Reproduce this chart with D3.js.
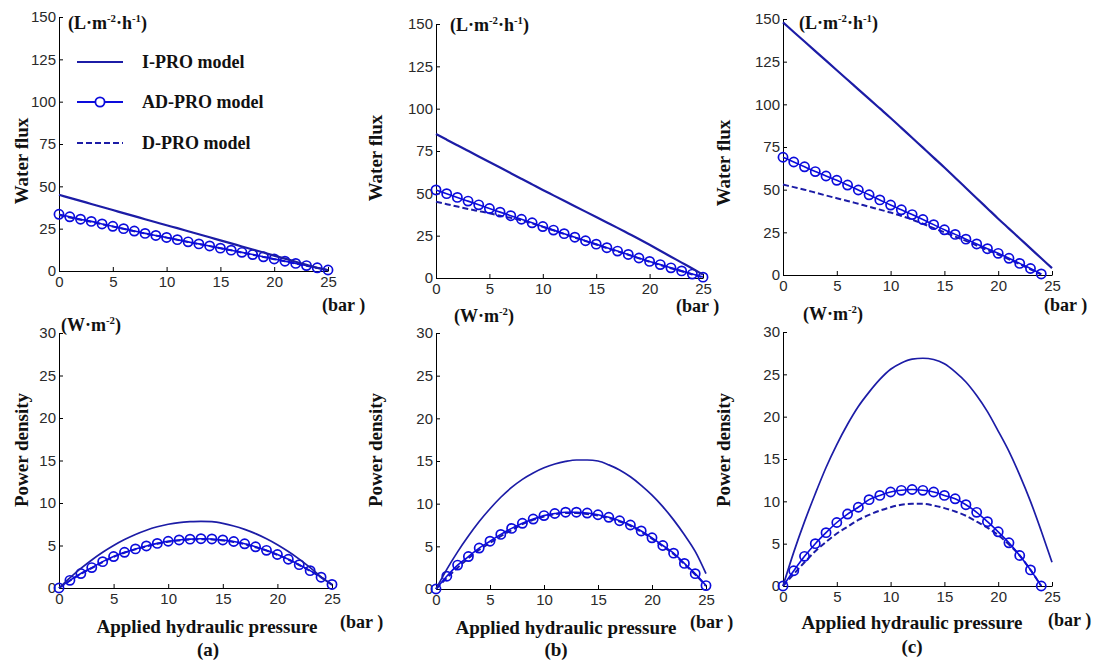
<!DOCTYPE html>
<html>
<head>
<meta charset="utf-8">
<script src="https://cdnjs.cloudflare.com/ajax/libs/d3/7.8.5/d3.min.js"></script>
<style>
body{margin:0;background:#fff;}
svg{display:block;}
.tick text{font-family:"Liberation Sans",Arial,sans-serif;font-size:15px;fill:#2a2a2a;}
.domain,.tick line{stroke:#000;}
.lbl{font-family:"Liberation Serif","Times New Roman",serif;font-weight:bold;fill:#111;}
</style>
</head>
<body>
<svg width="1099" height="663"></svg>
<script>
// applied hydraulic pressure (bar)
const pressure = [0,1,2,3,4,5,6,7,8,9,10,11,12,13,14,15,16,17,18,19,20,21,22,23,24,25];
const fluxTicks = [0,25,50,75,100,125,150];
const powerTicks = [0,5,10,15,20,25,30];
const pressureTicks = [0,5,10,15,20,25];
const models = ['I-PRO model','AD-PRO model','D-PRO model'];

// (a) water flux
const fluxA_I  = [45,43.2,41.4,39.6,37.8,36.0,34.2,32.4,30.6,28.8,27.0,25.3,23.5,21.7,19.9,18.1,16.3,14.5,12.7,10.9,9.1,7.3,5.5,3.7,1.9,0.5];
const fluxA_AD = [33.5,32.0,30.6,29.3,27.8,26.4,25.0,23.6,22.2,21.0,19.8,18.5,17.2,16.0,14.8,13.5,12.3,11.0,9.7,8.4,7.1,5.8,4.5,3.2,1.9,0.6];
const fluxA_D  = [33.0,31.6,30.3,29.0,27.6,26.2,24.9,23.5,22.1,20.9,19.7,18.4,17.1,15.9,14.7,13.4,12.2,10.9,9.6,8.3,7.0,5.7,4.4,3.1,1.8,0.5];
// (a) power density
const powerA_I  = [0,1.2,2.3,3.3,4.2,5.0,5.7,6.3,6.8,7.2,7.5,7.7,7.8,7.85,7.8,7.6,7.3,6.9,6.4,5.8,5.1,4.3,3.4,2.4,1.3,0.35];
const powerA_AD = [0,0.9,1.7,2.4,3.1,3.7,4.2,4.6,4.95,5.25,5.5,5.65,5.75,5.8,5.77,5.65,5.47,5.2,4.85,4.43,3.94,3.38,2.75,2.04,1.27,0.42];
const powerA_D  = [0,0.85,1.65,2.35,3.05,3.65,4.15,4.55,4.9,5.2,5.45,5.6,5.7,5.75,5.72,5.6,5.42,5.15,4.8,4.4,3.9,3.35,2.7,2.0,1.25,0.4];

// (b) water flux
const fluxB_I  = [85,81.7,78.4,75.1,71.8,68.5,65.2,61.9,58.6,55.3,52.0,48.8,45.6,42.4,39.2,36.0,32.8,29.6,26.3,23.0,19.6,16.1,12.6,9.1,5.6,2.0];
const fluxB_AD = [52,49.8,47.6,45.4,43.2,41.0,38.9,36.8,34.7,32.6,30.4,28.3,26.2,24.1,22.0,20.0,17.9,15.9,13.9,11.8,9.8,7.9,6.0,4.2,2.3,0.5];
const fluxB_D  = [45,43.6,42.2,40.8,39.5,38.2,36.8,35.5,34.0,32.2,30.2,28.1,26.0,23.9,21.8,19.8,17.7,15.7,13.7,11.6,9.6,7.7,5.8,4.0,2.1,0.4];
// (b) power density
const powerB_I  = [0,2.3,4.35,6.2,7.9,9.4,10.75,11.9,12.85,13.6,14.2,14.65,14.95,15.12,15.12,15.0,14.55,13.95,13.15,12.15,11.0,9.65,8.1,6.35,4.4,1.8];
const powerB_AD = [0,1.5,2.8,3.8,4.8,5.6,6.4,7.1,7.7,8.2,8.6,8.85,9.0,9.0,8.9,8.7,8.4,8.0,7.5,6.8,6.0,5.1,4.2,3.0,1.8,0.4];
const powerB_D  = [0,1.3,2.5,3.6,4.6,5.4,6.2,6.9,7.6,8.1,8.5,8.75,8.9,8.9,8.8,8.6,8.3,7.9,7.4,6.7,5.9,5.0,4.1,2.9,1.7,0.35];

// (c) water flux
const fluxC_I  = [148,142.4,136.8,131.2,125.6,120,114.4,108.8,103.2,97.6,92,86.2,80.4,74.6,68.8,63,57,51,45,39,33,27.2,21.4,15.6,9.8,4];
const fluxC_AD = [69,66.2,63.4,60.6,58,55.5,52.7,49.8,47,44,41,38.2,35.4,32.5,29.5,26.5,23.8,21,18.2,15.4,12.7,9.8,6.8,3.8,0.6];
const fluxC_D  = [53,51.5,50,48.3,46.6,45,43.4,41.7,40,38.3,36.6,34.6,32.5,30,27.5,25,22.5,20,17.3,14.6,12,9.2,6.3,3.3,0.3];
// (c) power density
const powerC_I  = [0,4.0,7.6,10.9,14.0,16.7,19.1,21.2,22.9,24.4,25.6,26.35,26.8,26.9,26.75,26.25,25.3,24.1,22.5,20.6,18.3,15.9,13.1,10.0,6.5,2.8];
const powerC_AD = [0,1.8,3.5,5.0,6.3,7.5,8.5,9.3,10.2,10.7,11.1,11.3,11.4,11.3,11.1,10.7,10.3,9.6,8.7,7.6,6.4,5.1,3.6,1.9,0];
const powerC_D  = [0,1.4,2.8,4.1,5.2,6.2,7.0,7.8,8.4,8.9,9.3,9.6,9.7,9.7,9.5,9.2,8.8,8.3,7.6,6.9,6.0,4.9,3.6,1.9,0];

const lineColor = '#1c1ca6';
const markColor = '#0c0cdc';

const svg = d3.select('svg');

// panel boxes (left, right, top, bottom in px)
const panels = [
  {l:59,  r:328,  t:17,  b:271, max:150, ticks:fluxTicks,  I:fluxA_I,  AD:fluxA_AD,  D:fluxA_D},
  {l:436, r:703,  t:24,  b:278, max:150, ticks:fluxTicks,  I:fluxB_I,  AD:fluxB_AD,  D:fluxB_D},
  {l:783, r:1052, t:19,  b:275, max:150, ticks:fluxTicks,  I:fluxC_I,  AD:fluxC_AD,  D:fluxC_D},
  {l:59,  r:332,  t:333, b:588, max:30,  ticks:powerTicks, I:powerA_I, AD:powerA_AD, D:powerA_D},
  {l:436, r:706,  t:333, b:589, max:30,  ticks:powerTicks, I:powerB_I, AD:powerB_AD, D:powerB_D},
  {l:783, r:1052, t:332, b:586, max:30,  ticks:powerTicks, I:powerC_I, AD:powerC_AD, D:powerC_D}
];

function pts(vals){ return vals.map((v,i)=>[pressure[i], v]); }

panels.forEach((p,k)=>{
  const x = d3.scaleLinear().domain([0,25]).range([p.l,p.r]);
  const y = d3.scaleLinear().domain([0,p.max]).range([p.b,p.t]);
  const g = svg.append('g');

  g.append('g').attr('transform',`translate(0,${p.b})`)
    .call(d3.axisBottom(x).tickValues(pressureTicks).tickSizeInner(-4).tickSizeOuter(0).tickPadding(5));
  g.append('g').attr('transform',`translate(${p.l},0)`)
    .call(d3.axisLeft(y).tickValues(p.ticks).tickSizeInner(-4).tickSizeOuter(0).tickPadding(3));

  const line = d3.line().x(d=>x(d[0])).y(d=>y(d[1])).curve(d3.curveMonotoneX);
  const w = k<3 ? 2.2 : 1.7;

  g.append('path').attr('d',line(pts(p.D))).attr('fill','none')
    .attr('stroke',lineColor).attr('stroke-width',2).attr('stroke-dasharray','6,3');
  g.append('path').attr('d',line(pts(p.AD))).attr('fill','none')
    .attr('stroke',markColor).attr('stroke-width',1.6);
  g.selectAll('circle').data(pts(p.AD)).join('circle')
    .attr('cx',d=>x(d[0])).attr('cy',d=>y(d[1])).attr('r',4.6)
    .attr('fill','none').attr('stroke',markColor).attr('stroke-width',1.7);
  g.append('path').attr('d',line(pts(p.I))).attr('fill','none')
    .attr('stroke',lineColor).attr('stroke-width',w);
});

// text helpers
function label(x,y,str,size,anchor){
  return svg.append('text').attr('class','lbl').attr('x',x).attr('y',y)
    .attr('font-size',size).attr('text-anchor',anchor||'start').text(str);
}
function sup(t,str){
  t.append('tspan').attr('font-size','0.6em').attr('dy',-7).text(str);
  return t;
}
function unitFlux(x,y){
  const t = svg.append('text').attr('class','lbl').attr('x',x).attr('y',y).attr('font-size',18);
  t.append('tspan').text('(L·m');
  sup(t,'-2');
  t.append('tspan').attr('dy',7).text('·h');
  sup(t,'-1');
  t.append('tspan').attr('dy',7).text(')');
}
function unitPower(x,y){
  const t = svg.append('text').attr('class','lbl').attr('x',x).attr('y',y).attr('font-size',18);
  t.append('tspan').text('(W·m');
  sup(t,'-2');
  t.append('tspan').attr('dy',7).text(')');
}

unitFlux(68,29); unitFlux(450,31); unitFlux(799,29);
unitPower(61,331); unitPower(454,322); unitPower(803,320);

[[322,311],[676,312],[1044,311],[340,628],[690,628],[1048,626]].forEach(d=>label(d[0],d[1],'(bar )',18));

[[207,633],[566,634],[912,629]].forEach(d=>label(d[0],d[1],'Applied hydraulic pressure',19,'middle'));
[['(a)',208,656],['(b)',556,656],['(c)',912,653]].forEach(d=>label(d[1],d[2],d[0],19,'middle'));

[[28,161],[382,158],[730,163]].forEach(d=>
  label(0,0,'Water flux',19,'middle').attr('transform',`translate(${d[0]},${d[1]}) rotate(-90)`));
[[28,450],[382,450],[730,450]].forEach(d=>
  label(0,0,'Power density',19,'middle').attr('transform',`translate(${d[0]},${d[1]}) rotate(-90)`));

// legend in panel (a)
const leg = svg.append('g');
const legY = [62,102,143];
models.forEach((m,i)=>{
  const ln = leg.append('line').attr('x1',77).attr('x2',123).attr('y1',legY[i]).attr('y2',legY[i])
    .attr('stroke',i===1?markColor:lineColor).attr('stroke-width',2.2);
  if(i===2) ln.attr('stroke-dasharray','6,3');
  if(i===1) leg.append('circle').attr('cx',100).attr('cy',legY[i]).attr('r',4.6)
    .attr('fill','#fff').attr('stroke',markColor).attr('stroke-width',1.8);
  label(142,legY[i]+6,m,18);
});
</script>
</body>
</html>
